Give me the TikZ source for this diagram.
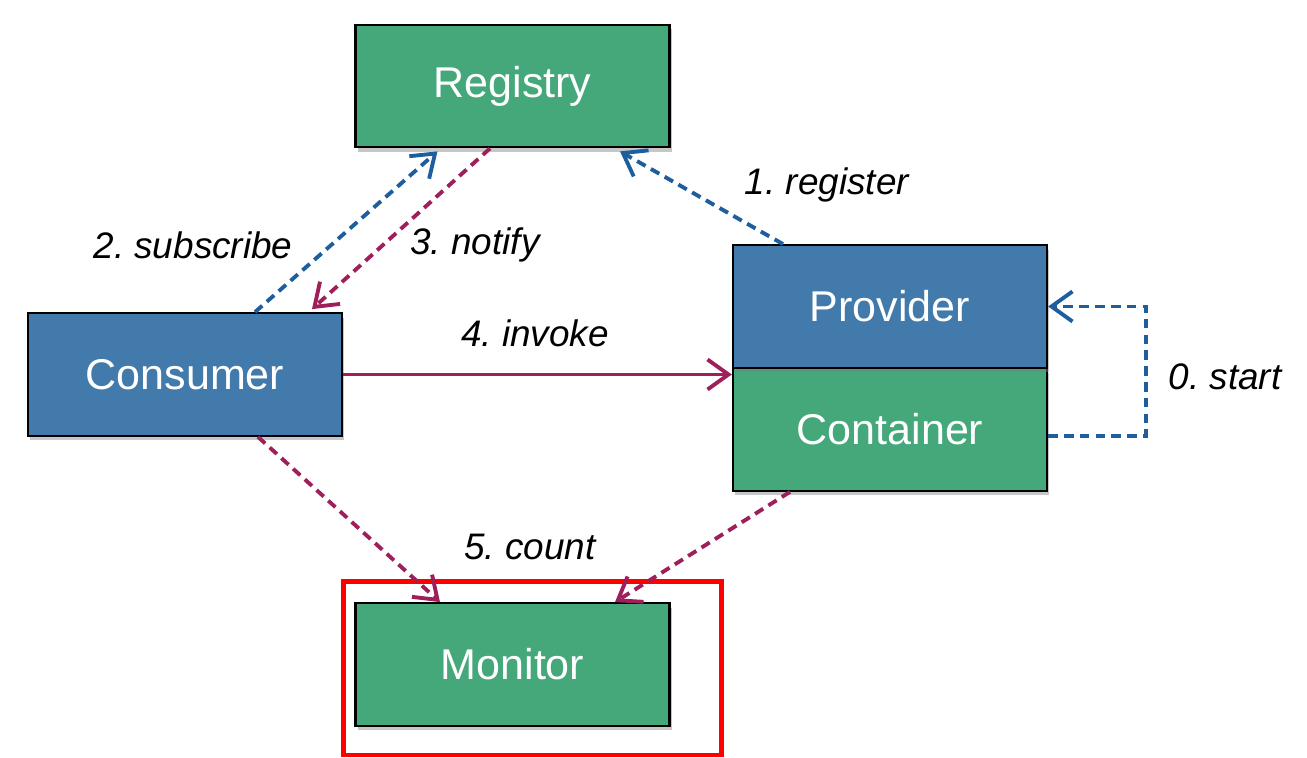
\documentclass[tikz,border=0pt]{standalone}
\usepackage{fontspec}
\setmainfont{Liberation Sans}
\frenchspacing
\usetikzlibrary{arrows.meta, shadows}

\definecolor{boxgreen}{RGB}{68,168,122}
\definecolor{boxblue}{RGB}{66,122,171}
\definecolor{lineblue}{RGB}{31,94,156}
\definecolor{linered}{RGB}{158,31,90}

\tikzset{
	box/.style={draw=black, line width=1.3pt, minimum width=6.28cm, minimum height=2.45cm,
		text=white, font=\fontsize{24.5}{28}\selectfont,
		drop shadow={shadow xshift=0.4mm, shadow yshift=-0.9mm, opacity=0.45}},
	greenbox/.style={box, fill=boxgreen},
	bluebox/.style={box, fill=boxblue},
	lbl/.style={font=\fontsize{21}{25}\selectfont\itshape},
	flow/.style={line width=2.2pt, -{Straight Barb[length=4.2mm, width=6mm]}},
	bluedash/.style={flow, lineblue, dash pattern=on 5.5pt off 3.5pt},
	reddash/.style={flow, linered, dash pattern=on 5.5pt off 3.5pt},
}

\begin{document}
\begin{tikzpicture}
	\useasboundingbox (0,0) rectangle (26.14,15.16);
	
	% boxes
	\node (registry) at (10.25,13.44) [greenbox] {Registry};
	\node (consumer) at (3.7,7.67) [bluebox] {Consumer};
	\node (container) at (17.8,6.57) [greenbox] {Container};
	\node (provider) at (17.8,9.03) [bluebox] {Provider};
	\node (monitor) at (10.25,1.87) [greenbox] {Monitor};
	
	% highlight round the monitor
	\draw [red, line width=2.6pt] (6.87,0.06) rectangle (14.43,3.53);
	
	% labels
	\node (lregister) at (16.54,11.46) [lbl] {1. register};
	\node (lsubscribe) at (3.86,10.26) [lbl] {2. subscribe};
	\node (lnotify) at (9.5,10.26) [lbl] {3. notify};
	\node (linvoke) at (10.7,8.5) [lbl] {4. invoke};
	\node (lstart) at (24.5,7.62) [lbl] {0. start};
	\node (lcount) at (10.6,4.22) [lbl] {5. count};
	
	% connectors
	\draw [bluedash] ([xshift=-2.14cm]provider.north) -- ([xshift=2.15cm, yshift=-0.06cm]registry.south);
	\draw [bluedash] ([xshift=1.4cm]consumer.north) -- ([xshift=-1.5cm, yshift=-0.06cm]registry.south);
	\draw [reddash] ([xshift=-0.45cm]registry.south) -- ([xshift=2.54cm, yshift=0.06cm]consumer.north);
	\draw [flow, linered] (consumer.east) -- (consumer.east -| provider.west);
	\draw [bluedash] ([yshift=-0.13cm]container.east) -- ++(1.96,0) |- (provider.east);
	\draw [reddash] ([xshift=1.46cm]consumer.south) -- ([xshift=-1.45cm]monitor.north);
	\draw [reddash] ([xshift=-2.0cm]container.south) -- ([xshift=2.05cm]monitor.north);
\end{tikzpicture}
\end{document}
